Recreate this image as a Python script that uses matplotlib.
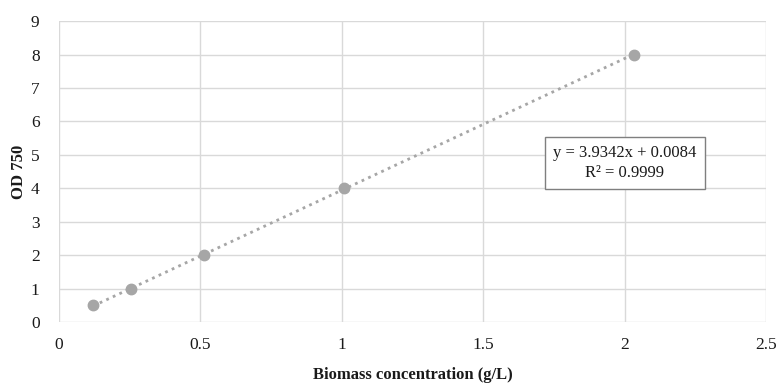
import numpy as np
import matplotlib.pyplot as plt

# Biomass calibration data
biomass = [0.121, 0.255, 0.514, 1.007, 2.032]
od750 = [0.5, 1.0, 2.0, 4.0, 8.0]
x_ticks = [0, 0.5, 1, 1.5, 2, 2.5]
x_tick_labels = ["0", "0.5", "1", "1.5", "2", "2.5"]
y_ticks = list(range(0, 10))
equation_text = "y = 3.9342x + 0.0084\nR² = 0.9999"

plt.rcParams['font.family'] = ['Liberation Serif', 'DejaVu Serif']

fig = plt.figure(figsize=(7.77, 3.83), dpi=100)
ax = fig.add_axes([0.0759, 0.159, 0.91, 0.786])

grid_col = '#d9d9d9'
pt_col = '#a6a6a6'

# trendline from linear fit
slope, intercept = np.polyfit(biomass, od750, 1)
xs = np.array([min(biomass), max(biomass)])
ax.plot(xs, slope * xs + intercept, linestyle=(0, (1, 1.6)), color=pt_col, lw=2, zorder=2)
ax.plot(biomass, od750, 'o', color=pt_col, markersize=7.5, zorder=3)

ax.set_xlim(0, 2.5)
ax.set_ylim(0, 9)
ax.set_xticks(x_ticks)
ax.set_xticklabels(x_tick_labels)
ax.set_yticks(y_ticks)
ax.tick_params(length=0, labelsize=12.5, colors='#1a1a1a')
ax.tick_params(axis='x', pad=11)
ax.tick_params(axis='y', pad=14)
ax.grid(True, color=grid_col, lw=1)
ax.set_axisbelow(True)
for s in ax.spines.values():
    s.set_visible(False)

ax.set_xlabel("Biomass concentration (g/L)", fontsize=12, fontweight='bold', labelpad=10, color='#1a1a1a')
ax.set_ylabel("OD 750", fontsize=12, fontweight='bold', labelpad=3, color='#1a1a1a')

ax.text(2.0, 4.75, equation_text, fontsize=12, ha='center', va='center', color='#1a1a1a',
        linespacing=1.3,
        bbox=dict(boxstyle='square,pad=0.5', fc='white', ec='#7f7f7f', lw=1))

fig.savefig("out.png", dpi=100)
